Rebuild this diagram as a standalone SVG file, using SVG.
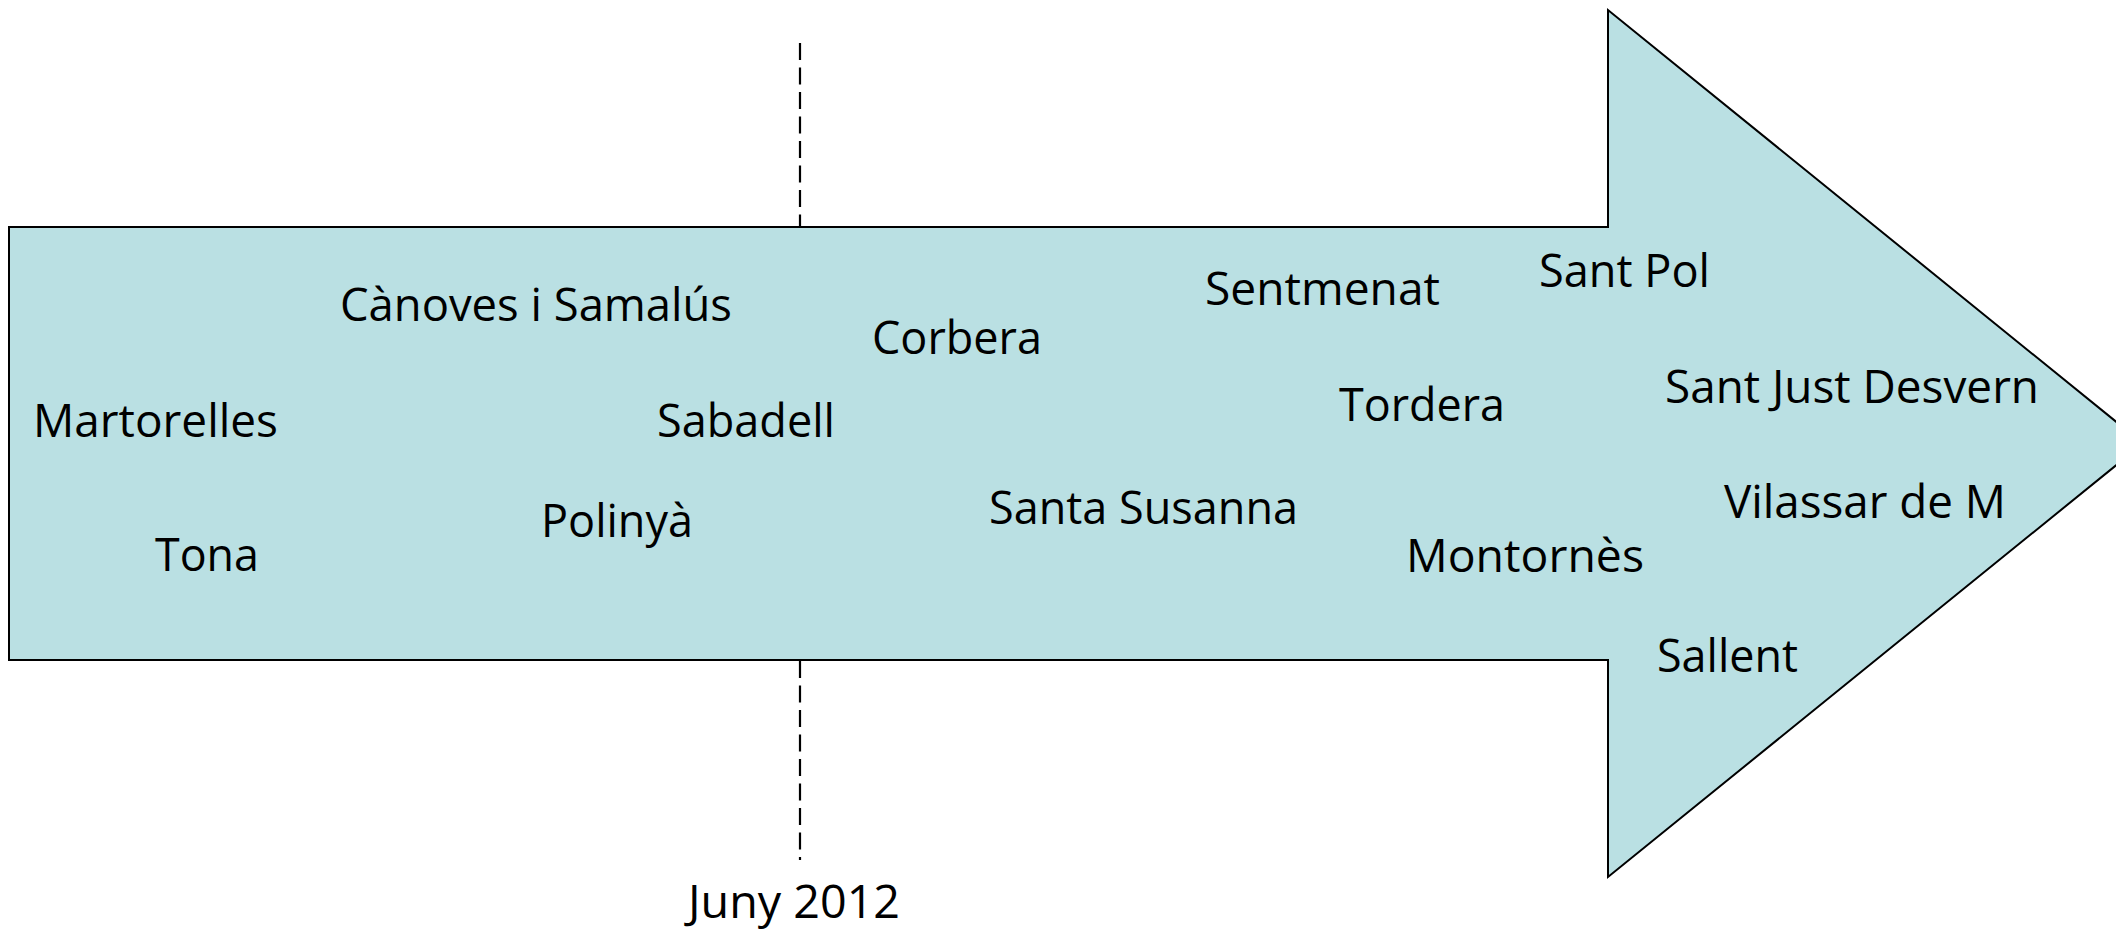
<svg xmlns="http://www.w3.org/2000/svg" width="2116" height="929" viewBox="0 0 2116 929">
<style>
.lbl{font-family:"Open Sans","Noto Sans","Liberation Sans",sans-serif;font-size:45px;fill:#000}
.arrow{fill:#BAE0E3;stroke:#000;stroke-width:2;stroke-linejoin:miter}
.dash{stroke:#000;stroke-width:2.2;stroke-dasharray:17 7.5;fill:none}
</style>
<rect width="2116" height="929" fill="#fff"/>
<g id="timeline-arrow">
<path class="arrow" d="M9,227 L1608,227 L1608,10 L2143,443.5 L1608,877 L1608,660 L9,660 Z"/>
</g>
<g id="connectors">
<line class="dash" x1="800" y1="43" x2="800" y2="227"/>
<line class="dash" x1="800" y1="661" x2="800" y2="860"/>
</g>
<g id="labels">
<g id="n-martorelles"><text class="lbl" x="33" y="437" textLength="245" lengthAdjust="spacingAndGlyphs">Martorelles</text></g>
<g id="n-canoves"><text class="lbl" x="340" y="321" textLength="392" lengthAdjust="spacingAndGlyphs">Cànoves i Samalús</text></g>
<g id="n-sabadell"><text class="lbl" x="657" y="437" textLength="178" lengthAdjust="spacingAndGlyphs">Sabadell</text></g>
<g id="n-polinya"><text class="lbl" x="541" y="537" textLength="152" lengthAdjust="spacingAndGlyphs">Polinyà</text></g>
<g id="n-tona"><text class="lbl" x="155" y="571" textLength="104" lengthAdjust="spacingAndGlyphs">Tona</text></g>
<g id="n-corbera"><text class="lbl" x="872" y="354" textLength="170" lengthAdjust="spacingAndGlyphs">Corbera</text></g>
<g id="n-sentmenat"><text class="lbl" x="1205" y="305" textLength="235" lengthAdjust="spacingAndGlyphs">Sentmenat</text></g>
<g id="n-santasusanna"><text class="lbl" x="989" y="524" textLength="309" lengthAdjust="spacingAndGlyphs">Santa Susanna</text></g>
<g id="n-santpol"><text class="lbl" x="1539" y="287" textLength="171" lengthAdjust="spacingAndGlyphs">Sant Pol</text></g>
<g id="n-tordera"><text class="lbl" x="1339" y="421" textLength="166" lengthAdjust="spacingAndGlyphs">Tordera</text></g>
<g id="n-montornes"><text class="lbl" x="1406" y="572" textLength="238" lengthAdjust="spacingAndGlyphs">Montornès</text></g>
<g id="n-santjust"><text class="lbl" x="1665" y="403" textLength="374" lengthAdjust="spacingAndGlyphs">Sant Just Desvern</text></g>
<g id="n-vilassar"><text class="lbl" x="1724" y="518" textLength="282" lengthAdjust="spacingAndGlyphs">Vilassar de M</text></g>
<g id="n-sallent"><text class="lbl" x="1657" y="672" textLength="141" lengthAdjust="spacingAndGlyphs">Sallent</text></g>
<g id="n-juny"><text class="lbl" x="688" y="918" textLength="212" lengthAdjust="spacingAndGlyphs">Juny 2012</text></g>
</g>
</svg>
